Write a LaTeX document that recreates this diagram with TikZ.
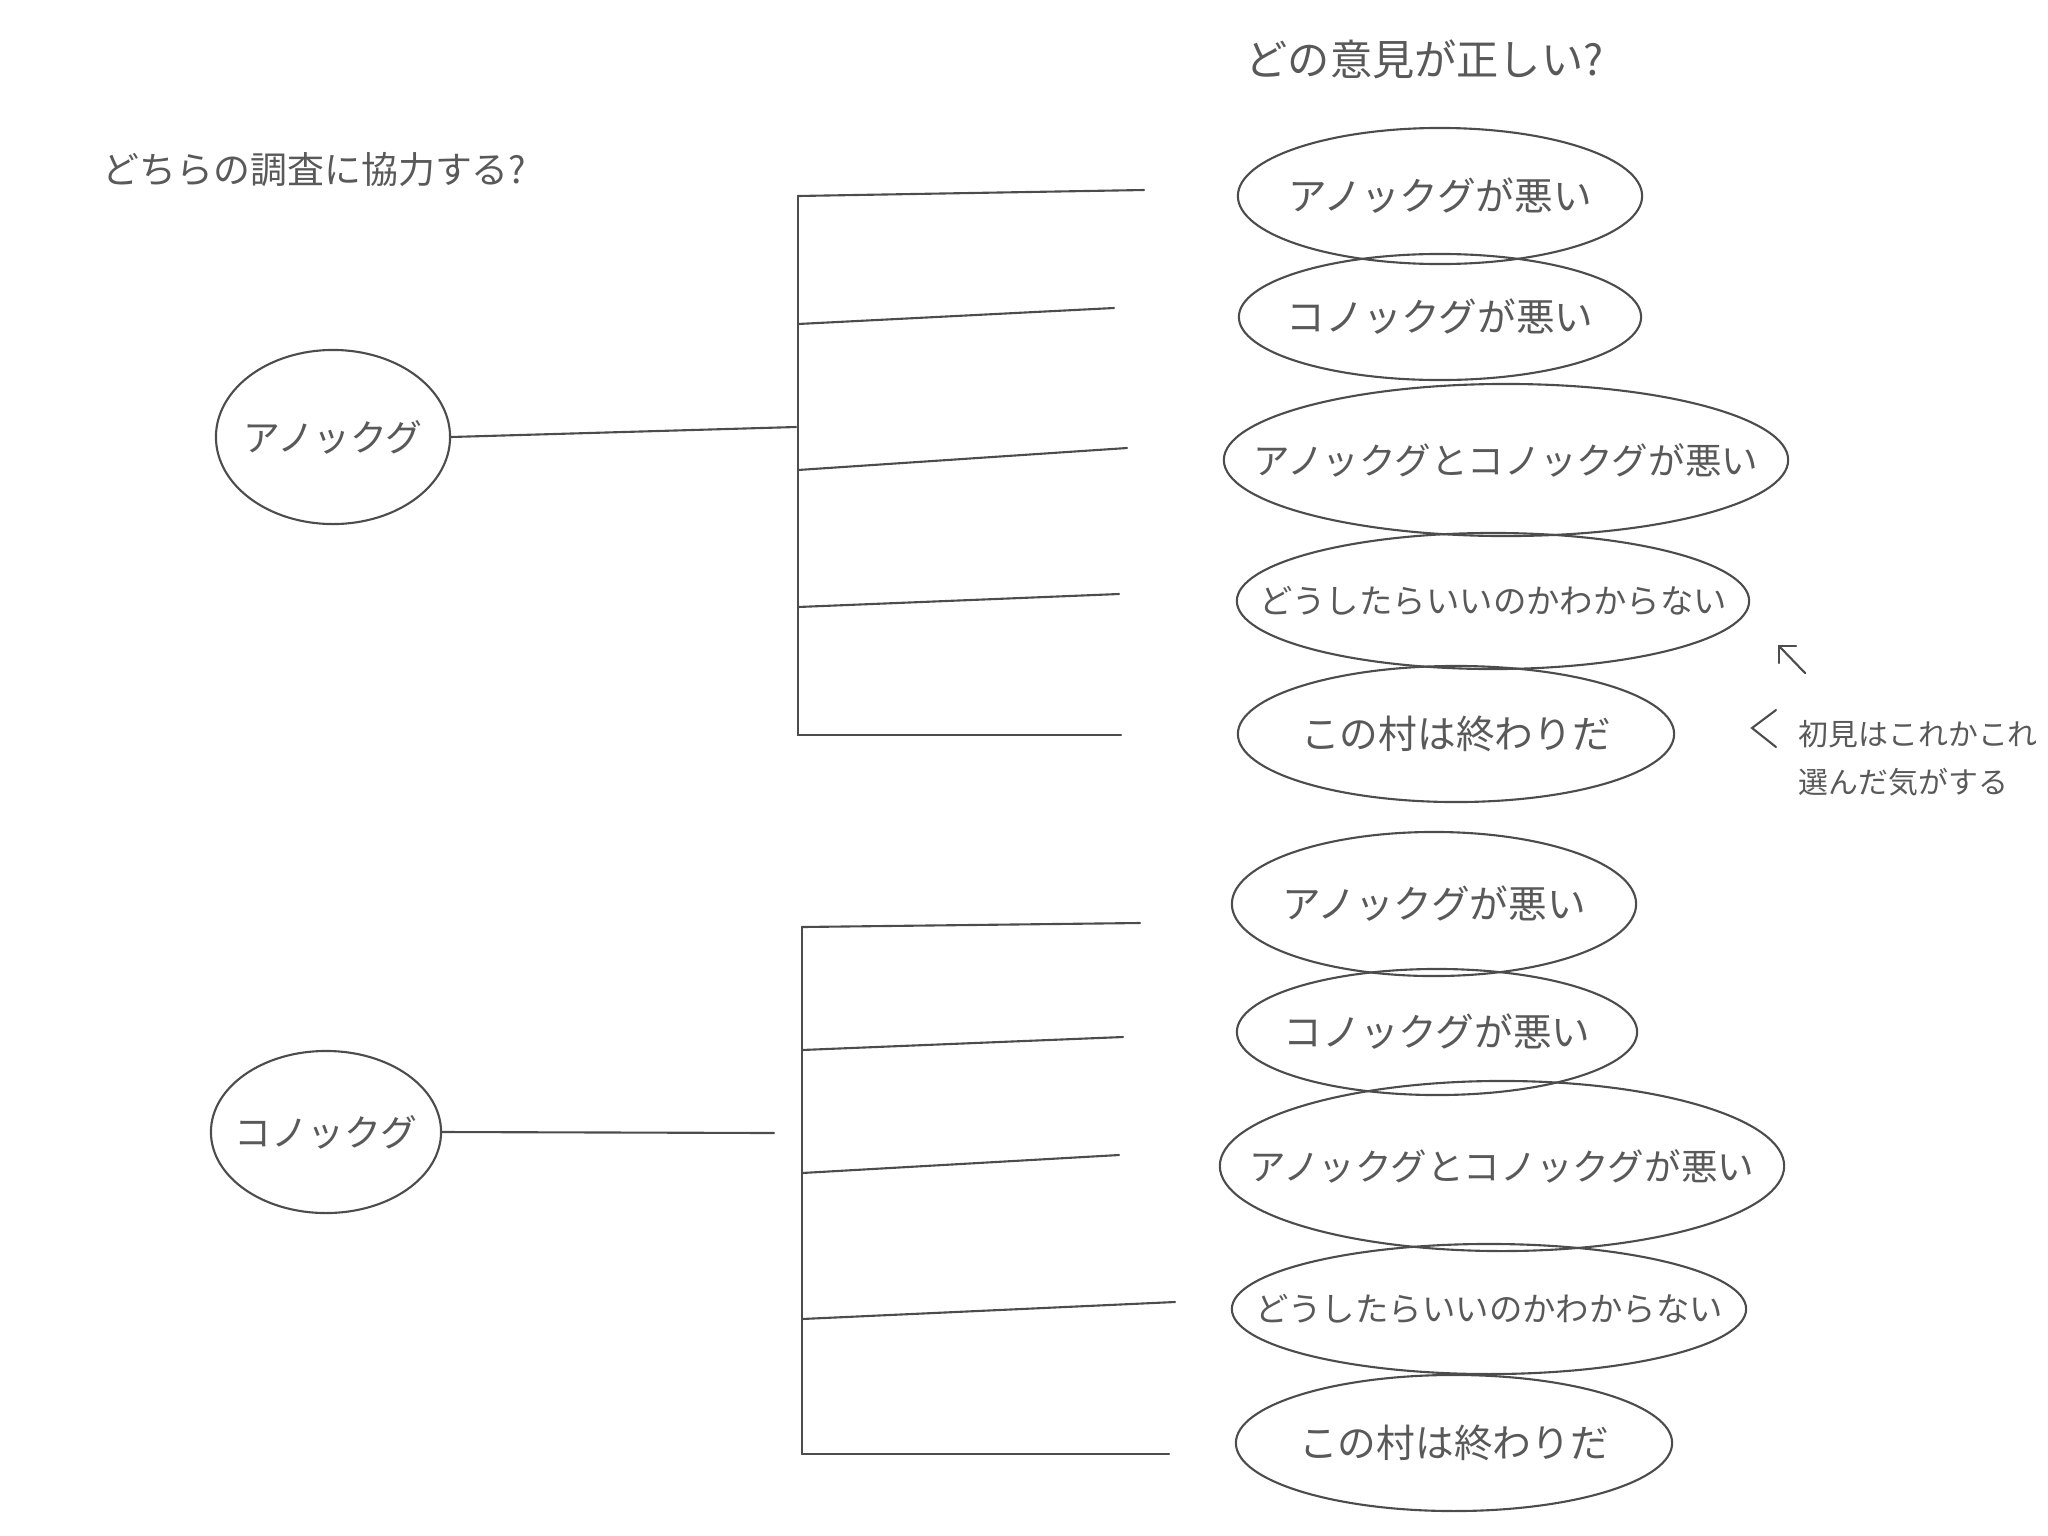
\documentclass[tikz,border=0pt]{standalone}
\usepackage{fontspec}
\newfontfamily\jp{Noto Sans CJK JP}
\usetikzlibrary{shapes.geometric, positioning, arrows.meta}

\tikzset{
  pen/.style={draw=black!70, line width=0.6pt, line cap=round},
  person/.style={pen, ellipse, inner xsep=-15pt, inner ysep=-4pt, text=black!65,
    font=\jp\fontsize{10.5}{12}\selectfont},
  opinion/.style={pen, ellipse, inner xsep=-24pt, inner ysep=-4pt, text=black!65,
    font=\jp\fontsize{11}{13}\selectfont},
  longop/.style={opinion, font=\jp\fontsize{10.4}{12}\selectfont},
  longerop/.style={opinion, font=\jp\fontsize{9.5}{11}\selectfont},
  note/.style={inner sep=0pt, text=black!65}
}

\begin{document}
\begin{tikzpicture}[x=0.01cm, y=-0.01cm]
  \useasboundingbox (0,0) rectangle (2048,1536);

  % questions
  \node[note, anchor=west, font=\jp\fontsize{10.5}{12}\selectfont] (askq) at (102,170) {どちらの調査に協力する?};
  \node[note, anchor=west, font=\jp\fontsize{12}{14}\selectfont] (whichq) at (1245,59) {どの意見が正しい?};

  % the two villagers
  \node[person, minimum width=2.34cm, minimum height=1.74cm] (anoc) at (333,437) {アノックグ};
  \node[person, minimum width=2.30cm, minimum height=1.62cm] (konoc) at (326,1132) {コノックグ};

  % opinions, upper group
  \node[opinion, minimum width=4.04cm, minimum height=1.36cm] (ua) at (1440,196) {アノックグが悪い};
  \node[opinion, minimum width=4.02cm, minimum height=1.26cm] (ub) at (1440,317) {コノックグが悪い};
  \node[longop, minimum width=5.64cm, minimum height=1.52cm] (uc) at (1506,460) {アノックグとコノックグが悪い};
  \node[longerop, minimum width=5.12cm, minimum height=1.36cm] (ud) at (1493,601) {どうしたらいいのかわからない};
  \node[opinion, minimum width=4.36cm, minimum height=1.36cm] (ue) at (1456,734) {この村は終わりだ};

  % opinions, lower group
  \node[opinion, minimum width=4.04cm, minimum height=1.44cm] (la) at (1434,904) {アノックグが悪い};
  \node[opinion, minimum width=4.00cm, minimum height=1.26cm] (lb) at (1437,1032) {コノックグが悪い};
  \node[longop, minimum width=5.64cm, minimum height=1.70cm] (lc) at (1502,1166) {アノックグとコノックグが悪い};
  \node[longerop, minimum width=5.14cm, minimum height=1.30cm] (ld) at (1489,1309) {どうしたらいいのかわからない};
  \node[opinion, minimum width=4.36cm, minimum height=1.36cm] (le) at (1454,1443) {この村は終わりだ};

  % upper tree
  \coordinate (ujoin) at (796,427);
  \draw[pen] (anoc.east) -- (ujoin);
  \foreach \n/\ya/\xb/\yb in {1/196/1144/190, 2/324/1114/308, 3/470/1127/448, 4/607/1119/594, 5/735/1121/735} {
    \coordinate (ul\n) at (798,\ya);
    \coordinate (ur\n) at (\xb,\yb);
    \draw[pen] (ul\n) -- (ur\n);
  }
  \draw[pen] (ul1) -- (ul5);

  % lower tree
  \coordinate (ljoin) at (774,1133);
  \draw[pen] (konoc.east) -- (ljoin);
  \foreach \n/\ya/\xb/\yb in {1/927/1140/923, 2/1050/1123/1037, 3/1173/1119/1155, 4/1319/1175/1302, 5/1454/1169/1454} {
    \coordinate (ll\n) at (802,\ya);
    \coordinate (lr\n) at (\xb,\yb);
    \draw[pen] (ll\n) -- (lr\n);
  }
  \draw[pen] (ll1) -- (ll5);

  % side remark
  \draw[pen] (1805,673) -- (1779,646);
  \draw[pen] (1796,646) -- (1779,646) -- (1779,663);
  \draw[pen] (1776,710) -- (1752,728) -- (1776,747);
  \node[note, anchor=north west, align=left, font=\jp\fontsize{8.5}{13.5}\selectfont] (remark) at (1798,720) {初見はこれかこれ\\選んだ気がする};
\end{tikzpicture}
\end{document}
